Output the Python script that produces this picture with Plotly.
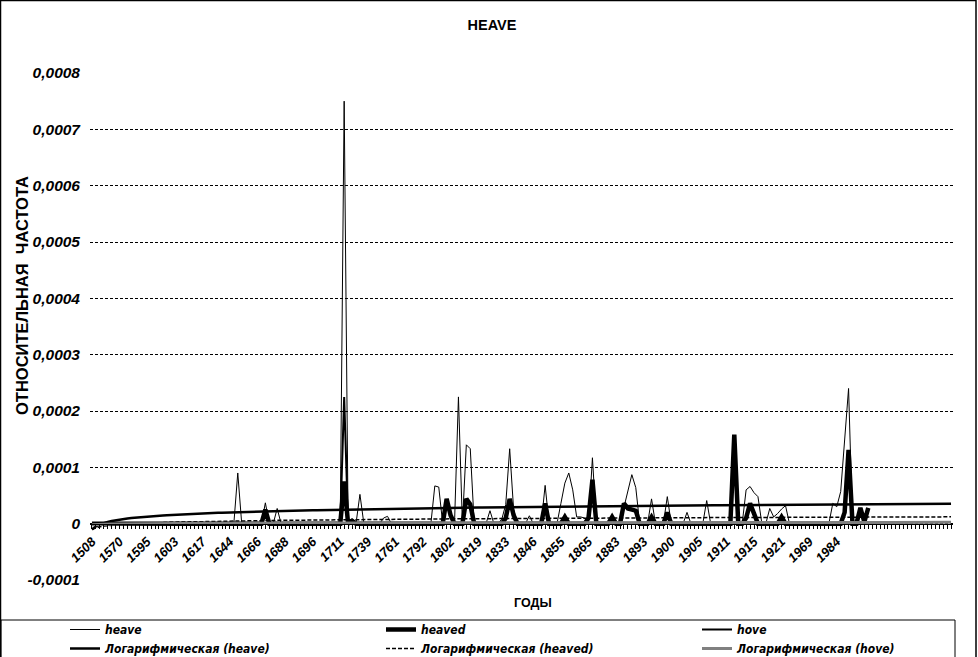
import numpy as np
import plotly.graph_objects as go

# category axis: 219 slots, data fills the first 198, every 7th slot labelled
n_categories = 219
n_points = 198
tick_years = ["1508", "1570", "1595", "1603", "1617", "1644", "1666", "1688", "1696",
              "1711", "1739", "1761", "1792", "1802", "1819", "1833", "1846", "1855",
              "1865", "1883", "1893", "1900", "1905", "1911", "1915", "1921", "1969", "1984"]
label_step = 7

# relative frequency, non-zero points only (category index -> value)
heave = {37: 0.000090, 44: 0.000037, 47: 0.000027, 64: 0.000750, 68: 0.000052,
         74: 0.000010, 75: 0.000013, 87: 0.000067, 88: 0.000065, 93: 0.000225,
         95: 0.000140, 96: 0.000133, 101: 0.000023, 104: 0.000008, 105: 0.000034,
         106: 0.000133, 107: 0.000025, 111: 0.000014, 115: 0.000068, 119: 0.000036,
         120: 0.000072, 121: 0.000090, 122: 0.000060, 123: 0.000012, 124: 0.000012,
         125: 0.000010, 127: 0.000117, 132: 0.000010, 135: 0.000030, 136: 0.000060,
         137: 0.000087, 138: 0.000064, 142: 0.000044, 146: 0.000048, 151: 0.000020,
         156: 0.000041, 163: 0.000150, 166: 0.000060, 167: 0.000066, 168: 0.000055,
         169: 0.000048, 172: 0.000027, 173: 0.000012, 174: 0.000018, 175: 0.000026,
         176: 0.000032, 188: 0.000036, 189: 0.000030, 190: 0.000057, 191: 0.000150,
         192: 0.000240, 195: 0.000020, 197: 0.000020}
heaved = {44: 0.000025, 64: 0.000075, 66: 0.000005, 90: 0.000044, 91: 0.000015,
          95: 0.000044, 96: 0.000034, 105: 0.000010, 106: 0.000044, 107: 0.000015,
          115: 0.000036, 120: 0.000012, 126: 0.000010, 127: 0.000078, 132: 0.000012,
          135: 0.000036, 136: 0.000027, 137: 0.000025, 138: 0.000023, 142: 0.000012,
          146: 0.000020, 163: 0.000158, 166: 0.000010, 167: 0.000036, 168: 0.000016,
          175: 0.000012, 191: 0.000020, 192: 0.000131, 195: 0.000028, 196: 0.000003,
          197: 0.000028}
hove = {64: 0.000225}

# logarithmic trendlines y = a + b*ln(x), x = 1..219, coefficients
trend_heave = (-0.0000105, 0.0000085)
trend_heaved = (-0.0000100, 0.0000041)
trend_hove = (-0.0000020, 0.0000008)

y_ticks = [-0.0001, 0, 0.0001, 0.0002, 0.0003, 0.0004, 0.0005, 0.0006, 0.0007, 0.0008]


def expand(d):
    arr = np.zeros(n_points)
    for k, v in d.items():
        arr[k] = v
    return arr


def log_line(coef):
    a, b = coef
    xs = np.arange(1, n_categories + 1)
    return a + b * np.log(xs)


idx = np.arange(n_points)
idx_all = np.arange(n_categories)

fig = go.Figure()
fig.add_trace(go.Scatter(x=idx, y=expand(heave), mode="lines", name="heave",
                         line=dict(color="black", width=1)))
fig.add_trace(go.Scatter(x=idx, y=expand(heaved), mode="lines", name="heaved",
                         line=dict(color="black", width=4.5)))
fig.add_trace(go.Scatter(x=idx, y=expand(hove), mode="lines", name="hove",
                         line=dict(color="black", width=2)))
fig.add_trace(go.Scatter(x=idx_all, y=log_line(trend_heave), mode="lines",
                         name="Логарифмическая (heave)", line=dict(color="black", width=2.5)))
fig.add_trace(go.Scatter(x=idx_all, y=log_line(trend_heaved), mode="lines",
                         name="Логарифмическая (heaved)",
                         line=dict(color="black", width=1.5, dash="4px,2px")))
fig.add_trace(go.Scatter(x=idx_all, y=log_line(trend_hove), mode="lines",
                         name="Логарифмическая (hove)", line=dict(color="#808080", width=3)))

# pixel helpers (plot area 90..953 x 73..580)
L, R, T, B = 90, 953, 73, 580
def px(x):
    return (x - L) / (R - L)
def py(y):
    return (B - y) / (B - T)

ticktext = []
for i in idx_all:
    if i % label_step == 0 and i // label_step < len(tick_years):
        ticktext.append(tick_years[i // label_step])
    else:
        ticktext.append("")

def bold_italic(size):
    return dict(family="Liberation Sans, Arial", size=size, color="black",
                weight="bold", style="italic")

fig.update_layout(
    width=978, height=657,
    margin=dict(l=L, r=978 - R, t=T, b=657 - B, autoexpand=False),
    paper_bgcolor="white", plot_bgcolor="white",
    title=dict(text="<b>HEAVE</b>", x=492 / 978, xanchor="center", y=1 - 25 / 657,
               yanchor="middle", yref="container",
               font=dict(family="Liberation Sans, Arial", size=14.5, color="black")),
    showlegend=True,
    legend=dict(orientation="h", x=px(65), xanchor="left", y=py(615), yanchor="top",
                entrywidth=271, entrywidthmode="pixels", bgcolor="rgba(0,0,0,0)",
                font=dict(family="Liberation Sans Narrow, DejaVu Sans Condensed, Arial",
                          size=12, color="black", weight="bold", style="italic"),
                tracegroupgap=0),
    xaxis=dict(range=[-0.5, n_categories - 0.5], tickmode="array", tickvals=list(idx_all),
               ticktext=ticktext, tickangle=-45, ticks="outside", ticklen=4,
               tickcolor="black", showline=True, linecolor="black", linewidth=1,
               showgrid=False, zeroline=False, anchor="free", position=py(524),
               tickfont=bold_italic(13)),
    yaxis=dict(range=[-0.0001, 0.0008], tickmode="array", tickvals=y_ticks,
               ticktext=["0" if v == 0 else f"{v:.4f}".replace(".", ",") for v in y_ticks],
               showgrid=True, gridcolor="black", gridwidth=1, griddash="3px,2px",
               zeroline=False, showline=False, ticks="", ticklabelstandoff=9,
               tickfont=bold_italic(15.5)),
    shapes=[
        dict(type="rect", xref="paper", yref="paper", x0=px(0.5), x1=px(976),
             y0=py(0.5), y1=py(700), line=dict(color="black", width=1.5)),
        dict(type="rect", xref="paper", yref="paper", x0=px(1), x1=px(955),
             y0=py(620), y1=py(700), line=dict(color="black", width=1)),
    ],
    annotations=[
        dict(text="<b>ОТНОСИТЕЛЬНАЯ  ЧАСТОТА</b>", xref="paper", yref="paper",
             x=px(22), y=py(296), xanchor="center", yanchor="middle", textangle=-90,
             showarrow=False,
             font=dict(family="Liberation Sans, Arial", size=16.5, color="black")),
        dict(text="<b>ГОДЫ</b>", xref="paper", yref="paper", x=px(533), y=py(603),
             xanchor="center", yanchor="middle", showarrow=False,
             font=dict(family="Liberation Sans, Arial", size=12.5, color="black")),
    ],
)

# the page body has an 8px default margin; drop it so the figure sits at 0,0
fig.write_html("out.html", config={"displayModeBar": False},
               post_script="document.body.style.margin='0';")
